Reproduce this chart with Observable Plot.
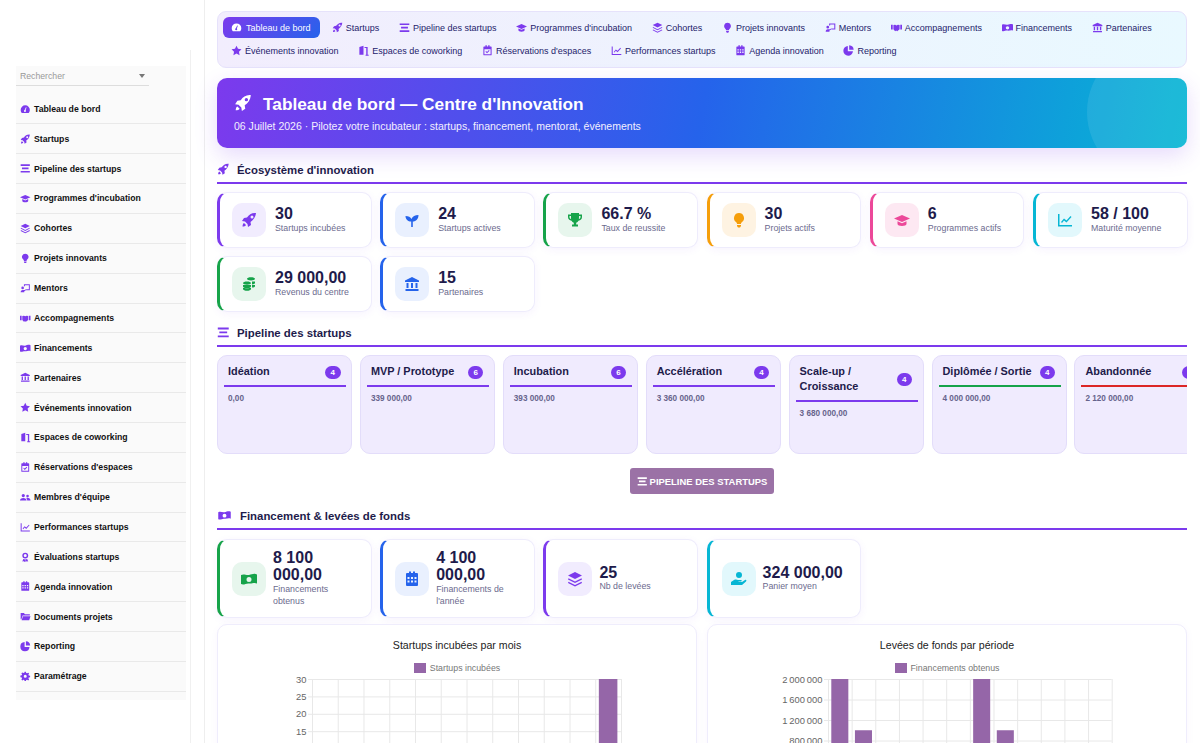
<!DOCTYPE html>
<html lang="fr"><head><meta charset="utf-8"><title>Tableau de bord</title>
<script src="https://cdn.jsdelivr.net/npm/d3@7"></script>
<script src="https://cdn.jsdelivr.net/npm/@observablehq/plot@0.6"></script>
<style>
*{box-sizing:border-box}
html,body{margin:0;padding:0;width:1200px;height:743px;overflow:hidden;background:#fff}
body{font-family:"Liberation Sans",sans-serif;color:#1e1b4b}
#root{position:relative;width:1200px;height:743px;overflow:hidden}
.abs{position:absolute}
svg.ic{display:block;fill:currentColor;fill-rule:evenodd;flex:none}
#side{left:16px;top:66px;width:170px;height:634px;background:#fafafa}
.sitem{position:absolute;left:0;width:170px;height:30px;border-bottom:1px solid #e9e9e9;display:flex;align-items:center;font-weight:700;font-size:8.7px;color:#111;padding-left:4px;gap:3.5px}
.sitem svg{color:#7c3aed;width:10.5px;height:10.5px}
#nav{left:217px;top:11px;width:970px;height:57px;border:1px solid #e6e2fb;border-radius:9px;background:linear-gradient(90deg,#f2edfd,#e9f9ff);padding:5px;display:flex;flex-wrap:wrap;align-content:flex-start;row-gap:2px;column-gap:3.7px}
.tab{height:21px;padding:0 8px 0 8px;display:flex;align-items:center;gap:3px;font-size:9px;color:#1e1b6b;border-radius:6px;white-space:nowrap}
.tab svg{width:11px;height:11px;color:#7c3aed}
.tab.on{background:linear-gradient(135deg,#7c3aed,#2563eb);color:#fff;padding-right:9.5px;gap:4px}.tab.on svg{color:#fff}
#hero{left:217px;top:78px;width:970px;height:70px;border-radius:10px;background:linear-gradient(100deg,#7c3aed 0%,#2563eb 50%,#06b6d4 100%);box-shadow:0 8px 22px rgba(124,58,237,.18);overflow:hidden;color:#fff}
.sec{left:217px;width:970px;height:21px;border-bottom:2px solid #7c3aed;display:flex;align-items:flex-start;font-weight:700;font-size:11.4px;line-height:14px;color:#1e1b4b}
.sec svg{height:12.5px;color:#7c3aed;margin-top:0}
.card{position:absolute;background:#fff;border:1px solid #eeecfc;border-left-width:3px;border-radius:10px;box-shadow:0 2px 8px rgba(124,58,237,.06)}
.tile{position:absolute;left:12px;width:34px;height:34px;border-radius:10px;display:flex;align-items:center;justify-content:center}
.tile svg{width:16px;height:16px}
.val{position:absolute;left:55px;font-weight:700;font-size:16px;line-height:17px;color:#1e1b4b}
.lab{position:absolute;left:55px;font-size:8.8px;line-height:11.5px;color:#6b6a8e}
.pipe{position:absolute;top:355px;height:99px;width:135px;background:#f0ebfe;border:1px solid #e3ddfa;border-radius:10px}
.pt{position:absolute;left:10px;font-weight:700;font-size:10.9px;line-height:15px;color:#1e1b4b}
.pb{position:absolute;width:15.5px;height:13px;border-radius:8px;background:#7c3aed;color:#fff;font-weight:700;font-size:8px;line-height:13px;text-align:center;left:107px}
.pl{position:absolute;left:6px;width:122px;height:2px}
.pa{position:absolute;left:10px;font-weight:700;font-size:8.2px;color:#67648c}
.chartcard{position:absolute;top:624px;width:480px;height:200px;background:#fff;border:1px solid #efedfc;border-radius:10px;box-shadow:0 2px 8px rgba(124,58,237,.04)}
.ct{position:absolute;width:480px;text-align:center;top:639px;font-size:10.6px;color:#222}
.lg{position:absolute;width:480px;top:663px;display:flex;justify-content:center;align-items:center;gap:4px;font-size:8.8px;color:#777}
.lg i{display:block;width:12px;height:10px;background:#9566a8}
.plot{position:absolute;top:669px}
.plot text{font-family:"Liberation Sans",sans-serif}
</style></head><body><div id="root"></div>
<script>
// ---------- chart data ----------
const months = ["janv.","févr.","mars","avr.","mai","juin","juil.","août","sept.","oct.","nov.","déc."];
const incubatedSeries = [0,0,0,0,0,0,0,0,0,0,0,30];
const fundingSeries = [2000000,1000000,0,0,0,0,2000000,1000000,0,0,0,0];
const incubatedGrid = [0,5,10,15,20,25,30];
const fundingGrid = [0,400000,800000,1200000,1600000,2000000];
const incubatedLabels = [15,20,25,30];
const fundingLabels = [800000,1200000,1600000,2000000];
// ---------- page text ----------
const sideLabels = ["Tableau de bord","Startups","Pipeline des startups","Programmes d'incubation","Cohortes","Projets innovants","Mentors","Accompagnements","Financements","Partenaires","Événements innovation","Espaces de coworking","Réservations d'espaces","Membres d'équipe","Performances startups","Évaluations startups","Agenda innovation","Documents projets","Reporting","Paramétrage"];
const sideIcons = ["gauge","rocket","bars","grad","layers","bulb","teach","hands","money","bank","star","door","calcheck","users","line","award","calendar","folder","pie","cog"];
const tabLabels = ["Tableau de bord","Startups","Pipeline des startups","Programmes d'incubation","Cohortes","Projets innovants","Mentors","Accompagnements","Financements","Partenaires","Événements innovation","Espaces de coworking","Réservations d'espaces","Performances startups","Agenda innovation","Reporting"];
const tabIcons = ["gauge","rocket","bars","grad","layers","bulb","teach","hands","money","bank","star","door","calcheck","line","calendar","pie"];
const kpiValues = ["30","24","66.7 %","30","6","58 / 100","29 000,00","15"];
const kpiLabels = ["Startups incubées","Startups actives","Taux de reussite","Projets actifs","Programmes actifs","Maturité moyenne","Revenus du centre","Partenaires"];
const kpiIcons = ["rocket","seed","trophy","bulb","grad","line","coins","bank"];
const kpiTones = ["purple","blue","green","orange","pink","cyan","green","blue"];
const stageNames = ["Idéation","MVP / Prototype","Incubation","Accélération","Scale-up / Croissance","Diplômée / Sortie","Abandonnée"];
const stageCounts = ["4","6","6","4","4","4",""];
const stageAmounts = ["0,00","339 000,00","393 000,00","3 360 000,00","3 680 000,00","4 000 000,00","2 120 000,00"];
const fundValues = ["8 100 000,00","4 100 000,00","25","324 000,00"];
const fundCaptions = ["Financements obtenus","Financements de l'année","Nb de levées","Panier moyen"];
const fundIcons = ["money","calendar","layers","handusd"];
const fundTones = ["green","blue","purple","cyan"];

const tones={purple:["#7c3aed","#f1ecfe"],blue:["#2563eb","#e9f0fe"],green:["#16a34a","#e7f6ed"],orange:["#f59e0b","#fef3e2"],pink:["#ec4899","#fde8f2"],cyan:["#06b6d4","#e2f8fc"]};
const P={
rocket:"M15 1c-4-.5-7 1.5-9 4.5L3 6 1 9l3 .5L6.5 12l.5 3 3-2-.5-3c3-2 5-5 5.5-9zM11 6.5A1.5 1.5 0 1 1 11 3.5a1.5 1.5 0 0 1 0 3zM3 11c-1 .5-1.5 2-1.5 3.5 1.5 0 3-.5 3.5-1.5z",
bars:"M1 2h14v2.4H1zM3 7h10v2.4H3zM1 12h14v2.4H1z",
gauge:"M8 2a7 7 0 0 0-7 7c0 1.8.6 3.3 1.7 4.6h10.6A7 7 0 0 0 15 9a7 7 0 0 0-7-7zm1 8.5a1.5 1.5 0 1 1-2-1.3L9 5l1 .5-1.5 3.8c.3.3.5.7.5 1.2z",
grad:"M8 3L0 6.5 8 10l8-3.5zM3.5 9.3V12c0 1 2 2 4.5 2s4.5-1 4.5-2V9.3L8 11.3z",
layers:"M8 1l7 3.5L8 8 1 4.5zM1.5 7.3L8 10.5l6.5-3.2.5 1.2-7 3.5-7-3.5zM1.5 10.8L8 14l6.5-3.2.5 1.2L8 15.5 1 12z",
bulb:"M8 1a5 5 0 0 0-3 9c.5.5 1 1 1 2h4c0-1 .5-1.5 1-2a5 5 0 0 0-3-9zM6 13h4v1l-1 1.5H7L6 14z",
teach:"M6 2h9v9H9V9.5h4.5v-6H7.5V5H6zM4 5.5a2 2 0 1 1 0 4 2 2 0 0 1 0-4zM1 14c0-2 1-3.5 3-3.5h3l2-1 .5 1-3 2V14z",
hands:"M0 4h2.5v7H0zM13.5 4H16v7h-2.5zM3.5 4.5L6 4l2 1 2-1 2.5.5v6l-3.5 3-1.5-1-1.5 1-2.5-3z",
money:"M0 4c3-1.5 5 .5 8 0s5-2 8-.5v9c-3-1.5-5 .5-8 0s-5 2-8 .5zM8 6a2.5 2.5 0 1 0 0 5 2.5 2.5 0 0 0 0-5z",
bank:"M8 1L1 4.5V6h14V4.5zM2.5 7h2v5h-2zM7 7h2v5H7zM11.5 7h2v5h-2zM1.5 13h13v2h-13z",
star:"M8 1l2.2 4.6 5 .7-3.6 3.5.9 5L8 12.4l-4.5 2.4.9-5L.8 6.3l5-.7z",
door:"M2 14V3l6-2v13zM9.5 3H14v11h1.5v1.5H11V14h1V4.5H9.5z",
calcheck:"M3 2h2V.5h2V2h2V.5h2V2h2a1 1 0 0 1 1 1v11a1 1 0 0 1-1 1H3a1 1 0 0 1-1-1V3a1 1 0 0 1 1-1zM3.5 6v7.5h9V6zM7.3 12L5 9.7l1-1 1.3 1.3L10 7.3l1 1z",
line:"M1 2h1.5v11H15v1.5H1zM4 10l3-3.5 2.5 2L13.5 4l1 1-5 5.5L7 8.5 5 11z",
calendar:"M3 2h2V.5h2V2h2V.5h2V2h2a1 1 0 0 1 1 1v11a1 1 0 0 1-1 1H3a1 1 0 0 1-1-1V3a1 1 0 0 1 1-1zM3.5 6v2h2V6zM7 6v2h2V6zM10.5 6v2h2V6zM3.5 9.5v2h2v-2zM7 9.5v2h2v-2zM10.5 9.5v2h2v-2z",
pie:"M7 1.5a7 7 0 1 0 7.5 7.5H7zM9 .5V7h6.5A7 7 0 0 0 9 .5z",
seed:"M7.2 15V9.5C4 9.5 1.5 7.5 1.5 4c3 0 5 1 6 3 1-2.5 3.5-4 7-4 0 4-2.5 6.5-5.7 6.5V15z",
trophy:"M4 1h8v1.5h3V5c0 2-1.5 3.5-3.5 3.8-.5 1-1.3 1.6-2.3 1.9v1.8H11v2H5v-2h1.8v-1.8c-1-.3-1.8-.9-2.3-1.9C2.5 8.5 1 7 1 5V2.5h3zM2.5 4v1c0 1 .6 1.9 1.6 2.2C4 6.5 4 5 4 4zM13.5 4H12c0 1 0 2.5-.1 3.2 1-.3 1.6-1.2 1.6-2.2z",
coins:"M2 9h8v1.5c0 1-2 1.8-4 1.8s-4-.8-4-1.8zM2 12h8v1c0 1-2 1.8-4 1.8s-4-.8-4-1.8zM6 5.5c2.2 0 4 .7 4 1.6S8.2 8.7 6 8.7 2 8 2 7.1s1.8-1.6 4-1.6zM10 1.2c2.2 0 4 .7 4 1.6S12.2 4.4 10 4.4 6 3.7 6 2.8s1.8-1.6 4-1.6zM11 5.5h3V7c0 .7-1.5 1.3-3 1.4zM11 9h3v1.2c0 .7-1.5 1.3-3 1.4z",
users:"M5 3a2.5 2.5 0 1 1 0 5 2.5 2.5 0 0 1 0-5zM11.5 4a2 2 0 1 1 0 4 2 2 0 0 1 0-4zM0 13c0-2.5 2-4 5-4s5 1.5 5 4zM11 13c0-1.5-.5-3-1.5-4 .6-.2 1.3-.2 2-.2 2.5 0 4.5 1.4 4.5 4.2z",
award:"M8 1a4.5 4.5 0 1 0 0 9 4.5 4.5 0 0 0 0-9zm0 2.2a2.3 2.3 0 1 1 0 4.6 2.3 2.3 0 0 1 0-4.6zM5 10.5l-1.5 4 2.5-.5 1.5 1.5.5-4zM11 10.5l1.5 4-2.5-.5-1.5 1.5-.5-4z",
folder:"M1 3h5l1.5 2H15v2H4L2 13 1 12.5zM4.5 8H16l-2 6H2.5z",
cog:"M7 1h2l.4 2 1.4.6 1.7-1.1 1.4 1.4-1.1 1.7.6 1.4 2 .4v2l-2 .4-.6 1.4 1.1 1.7-1.4 1.4-1.7-1.1-1.4.6-.4 2H7l-.4-2-1.4-.6-1.7 1.1-1.4-1.4 1.1-1.7-.6-1.4-2-.4V7l2-.4.6-1.4-1.1-1.7 1.4-1.4 1.7 1.1 1.4-.6zM8 5.7a2.3 2.3 0 1 0 0 4.6 2.3 2.3 0 0 0 0-4.6z",
handusd:"M8 1a3 3 0 1 1 0 6 3 3 0 0 1 0-6zM0 11l3-2c1.5-.8 3-.5 4 0h3c1 0 1 1.5 0 1.5H7.5v.5H11l3-2c1-.6 2 .6 1 1.5L11 14H0z"
};
const ic=n=>`<svg class="ic" viewBox="0 0 16 16"><path d="${P[n]}"/></svg>`;
const root=document.getElementById("root");
function el(cls,style,html,parent){const d=document.createElement("div");if(cls)d.className=cls;if(style)d.style.cssText=style;if(html!=null)d.innerHTML=html;(parent||root).appendChild(d);return d}

// sidebar
el("abs","left:190px;top:50px;width:1px;height:693px;background:#f0f0f0");
el("abs","left:204px;top:0;width:1px;height:743px;background:#eeeeee");
const side=el("abs","","",root);side.id="side";
el("abs","left:0;top:0;width:133px;height:20px;border-bottom:1px solid #ddd",`<span style="position:absolute;left:4px;top:5px;font-size:8.7px;color:#999">Rechercher</span><span style="position:absolute;left:123px;top:8px;width:0;height:0;border:3px solid transparent;border-top:4px solid #777"></span>`,side);
sideLabels.forEach((t,i)=>el("sitem",`top:${28.4+i*29.86}px`,ic(sideIcons[i])+`<span>${t}</span>`,side));

// tabs
const nav=el("abs","","",root);nav.id="nav";
tabLabels.forEach((t,i)=>el("tab"+(i===0?" on":""),"",ic(tabIcons[i])+`<span>${t}</span>`,nav));

// hero
const hero=el("abs","","",root);hero.id="hero";
el("abs","left:870px;top:-36px;width:140px;height:140px;border-radius:50%;background:rgba(255,255,255,.09)","",hero);
el("abs","left:17px;top:16px;width:18px;height:18px",ic("rocket"),hero);
el("abs","left:46px;top:15.5px;font-size:17.3px;line-height:20px;font-weight:700;white-space:nowrap","Tableau de bord — Centre d'Innovation",hero);
el("abs","left:17px;top:41.4px;font-size:10.53px;line-height:14px;color:#f3efff;white-space:nowrap","06 Juillet 2026 · Pilotez votre incubateur : startups, financement, mentorat, événements",hero);

// section headers
function sec(top,icon,text,iconW,gap){el("abs sec",`top:${top}px;gap:${gap}px`,ic(icon).replace('class="ic"',`class="ic" style="width:${iconW}px"`)+`<span>${text}</span>`)}
sec(163,"rocket","Écosystème d'innovation",12.5,7.5);
sec(326,"bars","Pipeline des startups",12.5,7.5);
sec(509,"money","Financement &amp; levées de fonds",15,8);

// KPI cards
const cardPitch=163.2;
kpiValues.forEach((v,i)=>{const c=i%6,r=Math.floor(i/6),t=tones[kpiTones[i]];
 const k=el("card",`left:${217+c*cardPitch}px;top:${192+r*64}px;width:154.5px;height:55.5px;border-left-color:${t[0]}`);
 el("tile",`top:9.5px;background:${t[1]};color:${t[0]}`,ic(kpiIcons[i]),k);
 el("val","top:12px",v,k);el("lab","top:29.5px",kpiLabels[i],k);
});

// pipeline
const wrap=el("abs","left:0;top:0;width:1187px;height:743px;overflow:hidden");
stageNames.forEach((n,i)=>{const two=n.length>20;const col=i===5?"#16a34a":i===6?"#dc2626":"#7c3aed";
 const p=el("pipe",`left:${217+i*142.9}px`,"",wrap);
 el("pt",`top:8px;width:${two?90:120}px`,n,p);
 el("pb",`top:${two?17:9.5}px`,stageCounts[i],p);
 el("pl",`top:${two?44:29}px;background:${col}`,"",p);
 el("pa",`top:${two?53:38}px;white-space:nowrap`,stageAmounts[i],p);
});
el("abs","left:630px;top:468px;width:144px;height:26px;border-radius:3px;background:#9b72a6;color:#fff;display:flex;align-items:center;justify-content:center;gap:2.5px;font-weight:700;font-size:9.45px",ic("bars").replace('class="ic"','class="ic" style="width:10.5px;height:10.5px"')+"PIPELINE DES STARTUPS");

// funding cards
fundValues.forEach((v,i)=>{const t=tones[fundTones[i]];const long=v.length>10;
 const k=el("card",`left:${217+i*cardPitch}px;top:539px;width:154.5px;height:79px;border-left-color:${t[0]}`);
 el("tile",`top:22px;background:${t[1]};color:${t[0]}`,ic(fundIcons[i]),k);
 el("val",`left:53px;top:${long?9:24}px;width:${long?70:95}px`,v,k);
 el("lab",`left:53px;top:${long?44:41}px;width:${long?72:95}px`,fundCaptions[i],k);
});

// chart cards
[217,707].forEach(x=>el("chartcard",`left:${x}px`));
el("ct","left:217px","Startups incubées par mois");
el("ct","left:707px","Levées de fonds par période");
el("lg","left:217px","<i></i><span>Startups incubées</span>");
el("lg","left:707px","<i></i><span>Financements obtenus</span>");

const fr=d=>d3.format(",")(d).replace(/,/g,"\u2009");
function bars(left,series,gridTicks,labelTicks,ml,mr,inner,inset){
 const W=480,mt=10,mb=30,step=(W-ml-mr)/months.length,rows=months.map((m,i)=>({m,v:series[i]}));
 const grid="#e8e8e8";
 const chart=Plot.plot({width:W,height:mt+inner+mb,marginLeft:ml,marginRight:mr,marginTop:mt,marginBottom:mb,style:{background:"transparent",overflow:"visible"},
  x:{domain:months,padding:0,round:false,label:null,axis:null},
  y:{domain:[0,gridTicks[gridTicks.length-1]],label:null,axis:null},
  marks:[
   Plot.gridY(gridTicks,{stroke:grid,strokeOpacity:1}),
   Plot.ruleX(months,{x:d=>d,dx:-step/2,stroke:grid}),
   Plot.ruleX(months.slice(-1),{x:d=>d,dx:step/2,stroke:grid}),
   Plot.barY(rows,{x:"m",y:"v",fill:"#9566a8",insetLeft:inset,insetRight:inset}),
   Plot.axisY(labelTicks,{tickSize:4,tickPadding:2,stroke:grid,fill:"#666",fontSize:9.4,label:null,tickFormat:fr})
  ]});
 chart.classList.add("plot");chart.style.left=left+"px";chart.style.position="absolute";
 root.appendChild(chart);
}
bars(217,incubatedSeries,incubatedGrid,incubatedLabels,95,76,104.4,3.6);
bars(707,fundingSeries,fundingGrid,fundingLabels,121,75.3,102.5,3.3);
</script></body></html>
